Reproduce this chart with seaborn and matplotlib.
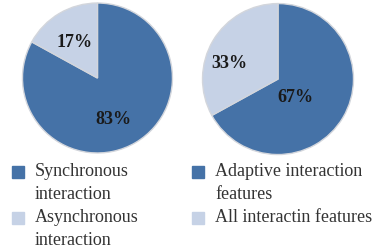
# filename: plot.py
import matplotlib.pyplot as plt
from matplotlib.patches import Rectangle
import seaborn as sns

interaction_labels = ['Synchronous\ninteraction', 'Asynchronous\ninteraction']
interaction_values = [83, 17]
feature_labels = ['Adaptive interaction\nfeatures', 'All interactin features']
feature_values = [67, 33]

colors = ['#4572a7', '#c6d2e6']

sns.set_theme(style='white')
plt.rcParams['font.family'] = ['Liberation Serif', 'DejaVu Serif']

W, H = 374, 250
fig = plt.figure(figsize=(W / 100, H / 100), dpi=100)


def draw_pie(rect, values, label_pos):
    ax = fig.add_axes(rect)
    wedges, texts, autotexts = ax.pie(
        values, colors=colors, startangle=90, counterclock=False,
        autopct='%d%%',
        wedgeprops={'edgecolor': '#d3d6dc', 'linewidth': 1.0},
        textprops={'fontsize': 13, 'color': '#1a1a1a', 'weight': 'bold'})
    for t, pos in zip(autotexts, label_pos):
        t.set_position(pos)
    ax.set_xlim(-1.03, 1.03)
    ax.set_ylim(-1.03, 1.03)
    ax.set_aspect('equal')
    return ax


draw_pie([0.0541, 0.379, 0.413, 0.618], interaction_values,
         [(0.21, -0.55), (-0.3, 0.47)])
draw_pie([0.5354, 0.3728, 0.4158, 0.622], feature_values,
         [(0.225, -0.25), (-0.64, 0.21)])


def draw_legend(x_box, labels, tops):
    for c, lab, top in zip(colors, labels, tops):
        # square sits beside the first line
        fig.add_artist(Rectangle((x_box / W, 1 - (top + 15) / H), 12 / W, 12 / H,
                                 transform=fig.transFigure, color=c))
        fig.text((x_box + 23) / W, 1 - top / H, lab, va='top', ha='left',
                 fontsize=13, color='#333333', linespacing=1.45)


draw_legend(12, interaction_labels, [163, 209])
draw_legend(192, feature_labels, [163, 209])

fig.savefig('out.png', dpi=100)
